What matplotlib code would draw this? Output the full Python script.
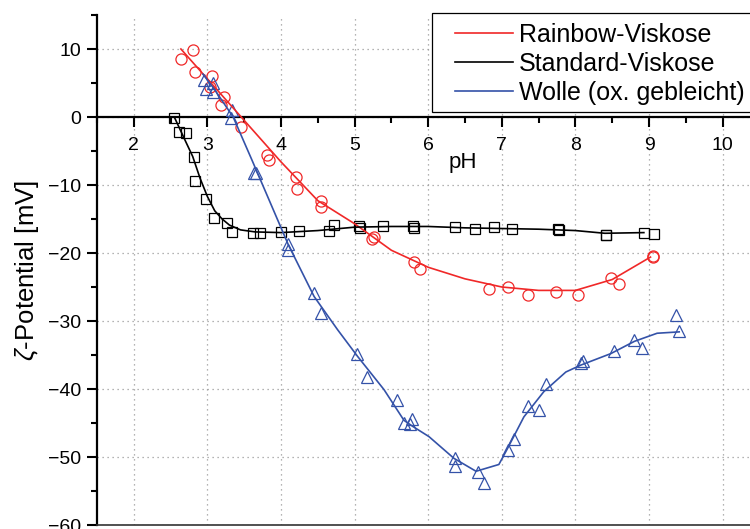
import matplotlib
matplotlib.use("Agg")
import matplotlib.pyplot as plt
from matplotlib.ticker import MultipleLocator
from matplotlib.patches import Rectangle

plt.rcParams['font.family'] = ['Liberation Sans', 'DejaVu Sans']
plt.rcParams['mathtext.fontset'] = 'custom'
plt.rcParams['mathtext.rm'] = 'Liberation Sans'
plt.rcParams['mathtext.it'] = 'Liberation Sans:italic'

# --- measured zeta potentials -------------------------------------------
rainbow_ph = [2.64, 2.81, 2.83, 3.06, 3.04, 3.23, 3.19, 3.46, 3.81, 3.84, 4.20, 4.22,
              4.55, 4.55, 5.26, 5.24, 5.81, 5.89, 6.83, 7.08, 7.36, 7.73, 8.04,
              8.49, 8.59, 9.05, 9.06]
rainbow_zp = [8.6, 9.8, 6.6, 6.1, 4.4, 3.0, 1.7, -1.4, -5.6, -6.3, -8.8, -10.6,
              -12.3, -13.3, -17.7, -18.0, -21.3, -22.4, -25.3, -25.0, -26.2, -25.8, -26.2,
              -23.7, -24.6, -20.6, -20.5]

standard_ph = [2.54, 2.61, 2.71, 2.82, 2.83, 2.98, 3.09, 3.26, 3.34, 3.62, 3.72, 4.00,
               4.25, 4.65, 4.72, 5.06, 5.07, 5.39, 5.80, 5.81, 6.37, 6.64, 6.90, 7.14,
               7.76, 7.78, 8.41, 8.42, 8.93, 9.07]
standard_zp = [-0.2, -2.2, -2.4, -5.9, -9.4, -12.0, -14.9, -15.6, -16.9, -17.1, -17.1, -16.9,
               -16.8, -16.8, -15.9, -16.1, -16.3, -16.0, -16.1, -16.3, -16.2, -16.4, -16.2, -16.4,
               -16.5, -16.6, -17.3, -17.4, -17.0, -17.2]

wolle_ph = [2.96, 2.98, 3.08, 3.07, 3.33, 3.32, 3.63, 3.66, 4.10, 4.10, 4.45, 4.54,
            5.03, 5.17, 5.57, 5.67, 5.78, 5.75, 6.36, 6.36, 6.67, 6.76, 7.09, 7.17,
            7.36, 7.50, 7.60, 8.07, 8.10, 8.53, 8.80, 8.90, 9.36, 9.41]
wolle_zp = [5.4, 4.1, 5.0, 3.7, 1.0, -0.1, -8.3, -8.3, -18.7, -19.6, -25.9, -28.8,
            -34.9, -38.2, -41.6, -45.0, -44.4, -45.2, -50.2, -51.3, -52.2, -53.8, -48.9, -47.4,
            -42.5, -43.1, -39.3, -36.2, -35.9, -34.4, -32.8, -33.9, -29.1, -31.5]

# --- smoothed trend curves ----------------------------------------------
rainbow_fit_ph = [2.64, 3.0, 3.5, 4.0, 4.5, 5.0, 5.5, 6.0, 6.5, 7.0, 7.5, 8.0, 8.5, 9.02]
rainbow_fit_zp = [10.0, 5.6, -0.5, -6.6, -12.3, -15.7, -19.6, -22.1, -23.8, -25.0, -25.5,
                  -25.5, -23.9, -20.6]

standard_fit_ph = [2.55, 2.7, 2.8, 2.9, 3.0, 3.1, 3.2, 3.3, 3.45, 3.65, 4.0, 4.5, 5.0,
                   5.5, 6.0, 6.5, 7.0, 7.5, 8.0, 8.4, 8.93]
standard_fit_zp = [0.0, -3.5, -5.8, -9.0, -11.7, -13.8, -15.0, -15.9, -16.6, -16.9, -17.0,
                   -16.7, -16.2, -16.1, -16.1, -16.3, -16.4, -16.5, -16.7, -17.1, -17.0]

wolle_fit_ph = [2.94, 3.1, 3.35, 3.6, 3.85, 4.1, 4.45, 4.77, 5.04, 5.4, 5.67, 5.79, 6.01,
                6.35, 6.65, 6.96, 7.08, 7.3, 7.57, 7.87, 8.07, 8.48, 8.8, 9.11, 9.41]
wolle_fit_zp = [6.3, 4.0, 0.0, -6.2, -12.5, -18.8, -26.4, -31.3, -35.2, -40.1, -44.6, -45.5,
                -47.0, -50.2, -52.1, -51.1, -48.7, -44.1, -40.4, -37.5, -36.5, -34.8, -33.0,
                -31.8, -31.6]

labels = ['Rainbow-Viskose', 'Standard-Viskose', 'Wolle (ox. gebleicht)']
colors = ['#f02828', '#000000', '#3452a8']

fig = plt.figure(figsize=(7.5, 5.29), dpi=100)
ax = fig.add_axes([97 / 750, 4 / 529, 653 / 750, 510 / 529])

series = [
    (rainbow_ph, rainbow_zp, rainbow_fit_ph, rainbow_fit_zp, 'o', 8.0),
    (standard_ph, standard_zp, standard_fit_ph, standard_fit_zp, 's', 7.0),
    (wolle_ph, wolle_zp, wolle_fit_ph, wolle_fit_zp, '^', 9.0),
]
handles = []
for (px, pz, fx, fz, mk, ms), col, lab in zip(series, colors, labels):
    ax.plot(px, pz, linestyle='none', marker=mk, markersize=ms,
            markerfacecolor='none', markeredgecolor=col, markeredgewidth=0.9, zorder=3)
    h, = ax.plot(fx, fz, color=col, lw=1.2, zorder=4, label=lab)
    handles.append(h)

ax.set_xlim(1.5, 10.372)
ax.set_ylim(-60, 15)

ax.xaxis.set_major_locator(MultipleLocator(1))
ax.xaxis.set_minor_locator(MultipleLocator(0.5))
ax.yaxis.set_major_locator(MultipleLocator(10))
ax.yaxis.set_minor_locator(MultipleLocator(5))

ax.spines['top'].set_visible(False)
ax.spines['right'].set_visible(False)
ax.spines['bottom'].set_position(('data', 0))
for s in ('left', 'bottom'):
    ax.spines[s].set_linewidth(1.6)
ax.axhline(-60, color='#333333', lw=1.2, clip_on=False, zorder=5)

ax.tick_params(which='major', direction='out', length=7.5, width=1.5, labelsize=14, pad=4)
ax.tick_params(which='minor', direction='out', length=4, width=1.5)
ax.tick_params(axis='x', which='major', pad=7)

ax.grid(which='major', linestyle=(0, (1, 3)), color='#9a9a9a', lw=0.9)
ax.set_axisbelow(True)

ax.set_xlabel('pH', fontsize=16)
ax.xaxis.set_label_coords(0.56, 0.731)
ax.set_ylabel(r'$\zeta$-Potential [mV]', fontsize=18.5)
ax.yaxis.set_label_coords(-0.086, 0.5)

# legend box with white fill over the plot area
fig.add_artist(Rectangle((432 / 750, 1 - 112 / 529), 0.5, 99 / 529,
                         transform=fig.transFigure, facecolor='white',
                         edgecolor='black', lw=0.9, zorder=6, clip_on=False))
fig.legend(handles=handles, loc='upper left', frameon=False,
           bbox_to_anchor=(455 / 750, 1 - 23 / 529), bbox_transform=fig.transFigure,
           borderpad=0, borderaxespad=0, handlelength=2.3, handletextpad=0.25,
           labelspacing=0.2, fontsize=18).set_zorder(7)

fig.savefig('out.png', dpi=100)
